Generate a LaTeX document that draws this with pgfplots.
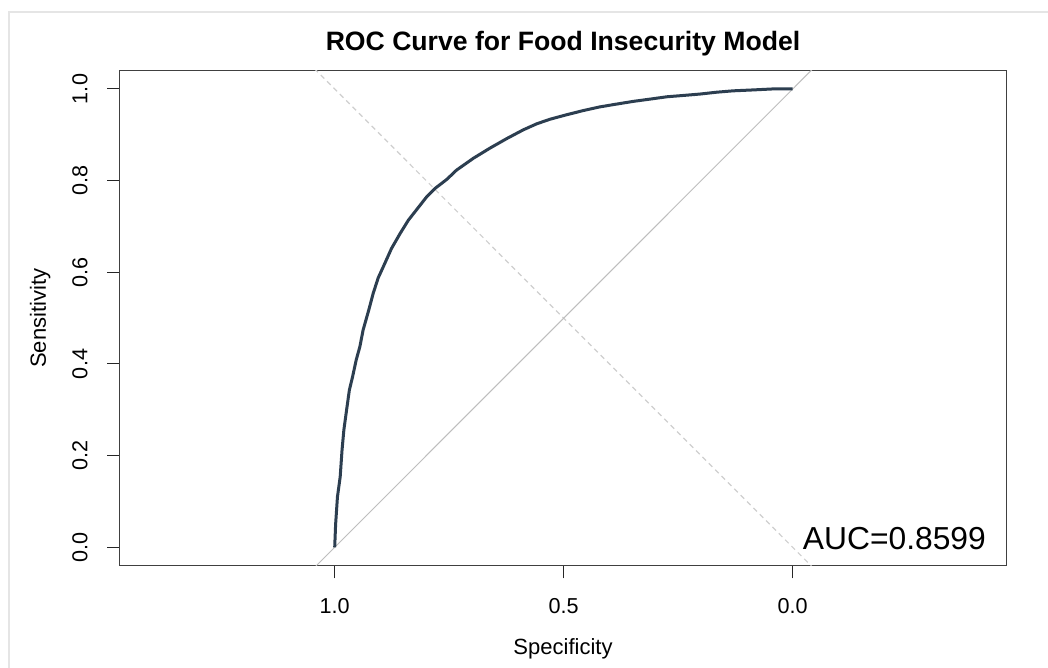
\documentclass[border=0pt]{standalone}
\usepackage{pgfplots}
\pgfplotsset{compat=1.18}
\usepackage{fontspec}
\setmainfont{Liberation Sans}
\definecolor{roccol}{HTML}{2C3E50}
\definecolor{framecol}{HTML}{E5E5E5}
\definecolor{diagsolid}{HTML}{BEBEBE}
\definecolor{diagdash}{HTML}{CFCFCF}
\begin{document}
\begin{tikzpicture}[x=1pt,y=1pt]
\fill[white] (0,0) rectangle (1048,668);
\draw[color=framecol, line width=2pt] (9,0) -- (9,655.5) -- (1048,655.5);
\begin{axis}[
  at={(120pt,102.3pt)}, anchor=south west,
  scale only axis, width=886pt, height=494.7pt,
  x dir=reverse,
  xmin=-0.4657, xmax=1.4688, ymin=-0.0401, ymax=1.0393,
  xtick={0,0.5,1}, xticklabels={0.0,0.5,1.0},
  ytick={0,0.2,0.4,0.6,0.8,1}, yticklabels={0.0,0.2,0.4,0.6,0.8,1.0},
  tick align=outside, major tick length=12.6pt,
  xtick pos=bottom, ytick pos=left,
  tick style={black!85, line width=1pt},
  axis line style={black!75, line width=1pt},
  ticklabel style={font=\fontsize{21.6}{24}\selectfont},
  xticklabel style={anchor=base},
  xticklabel shift=35.3pt,
  yticklabel style={rotate=90, anchor=base},
  yticklabel shift=20pt,
  title={ROC Curve for Food Insecurity Model},
  title style={at={(axis description cs:0.5,1.0287)}, anchor=base, font=\bfseries\fontsize{26.6}{30}\selectfont},
  xlabel={Specificity},
  xlabel style={at={(axis description cs:0.5,-0.18)}, anchor=base, font=\fontsize{22}{26}\selectfont},
  ylabel={Sensitivity},
  ylabel style={at={(axis description cs:-0.08352,0.5)}, anchor=base, font=\fontsize{22}{26}\selectfont},
  clip=true,
]
\addplot[diagdash, line width=1.2pt, dash pattern=on 5pt off 4pt] coordinates {(1.6,1.6) (-0.6,-0.6)};
\addplot[diagsolid, line width=1pt] coordinates {(1.6,-0.6) (-0.6,1.6)};
\addplot[roccol, line width=3pt, line join=round] table {
spec sens
1.000 0.000
0.998 0.050
0.994 0.110
0.988 0.154
0.984 0.212
0.980 0.256
0.974 0.300
0.968 0.343
0.961 0.372
0.953 0.409
0.945 0.438
0.938 0.474
0.925 0.520
0.916 0.554
0.905 0.588
0.894 0.612
0.876 0.652
0.857 0.685
0.839 0.714
0.817 0.742
0.799 0.765
0.781 0.783
0.755 0.803
0.734 0.823
0.697 0.849
0.661 0.871
0.624 0.892
0.588 0.911
0.559 0.924
0.530 0.934
0.493 0.944
0.457 0.953
0.421 0.961
0.385 0.967
0.348 0.973
0.311 0.978
0.275 0.983
0.238 0.986
0.202 0.989
0.166 0.993
0.130 0.996
0.086 0.998
0.046 1.000
0.000 1.000
};
\node[anchor=base west, inner sep=0pt, font=\fontsize{31.8}{36}\selectfont] at (axis cs:-0.0218,-0.0044) {AUC=0.8599};
\end{axis}
\pgfresetboundingbox
\path (0,0) rectangle (1048,668);
\end{tikzpicture}
\end{document}
